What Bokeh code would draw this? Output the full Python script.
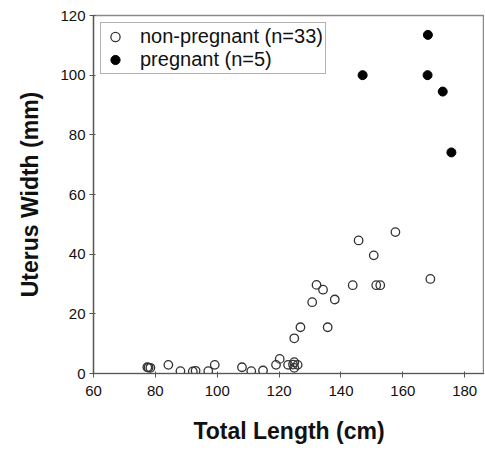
from bokeh.plotting import figure
from bokeh.models import Range1d, Legend, LegendItem, ColumnDataSource
from bokeh.embed import file_html
from bokeh.resources import INLINE

# Non-pregnant females (n=33)
np_length = [77.4, 77.8, 78.4, 84.2, 88.1, 92.1, 93.0, 97.1, 99.2, 108.0, 111.0, 114.8,
             119.0, 120.2, 122.9, 124.9, 124.5, 124.9, 126.0, 124.9, 126.9, 130.7, 132.1,
             134.2, 138.0, 135.7, 143.8, 145.7, 150.6, 151.4, 152.7, 157.6, 168.9]
np_width = [2.1, 2.0, 1.9, 2.9, 0.8, 0.7, 0.9, 0.8, 2.9, 2.1, 0.8, 1.0,
            2.9, 4.9, 2.9, 3.8, 3.0, 1.9, 2.9, 11.8, 15.5, 23.9, 29.7,
            28.1, 24.8, 15.5, 29.6, 44.6, 39.6, 29.6, 29.6, 47.4, 31.7]

# Pregnant females (n=5)
p_length = [147.0, 168.0, 168.1, 172.9, 175.7]
p_width = [100.0, 100.0, 113.5, 94.5, 74.1]

x_ticks = [60, 80, 100, 120, 140, 160, 180]
y_ticks = [0, 20, 40, 60, 80, 100, 120]

FONT = "Liberation Sans"

p = figure(width=484, height=450, output_backend="svg", toolbar_location=None,
           x_range=Range1d(60, 186.4), y_range=Range1d(0, 120),
           min_border_left=93, min_border_right=0, min_border_top=15, min_border_bottom=77)

p.xgrid.visible = False
p.ygrid.visible = False
p.outline_line_color = "#8a8a8a"
p.outline_line_width = 1.5
p.background_fill_color = "white"

src_np = ColumnDataSource(dict(x=np_length, y=np_width))
src_p = ColumnDataSource(dict(x=p_length, y=p_width))

r1 = p.scatter("x", "y", source=src_np, size=8.5, marker="circle",
               fill_color=None, line_color="#333333", line_width=1.3)
r2 = p.scatter("x", "y", source=src_p, size=9, marker="circle",
               fill_color="black", line_color="black")

for ax in (p.xaxis[0], p.yaxis[0]):
    ax.axis_line_color = "#555555"
    ax.axis_line_width = 1.2
    ax.major_tick_line_color = "#555555"
    ax.minor_tick_line_color = "#777777"
    ax.major_tick_in = 2
    ax.major_tick_out = 4
    ax.minor_tick_in = 2
    ax.minor_tick_out = 0
    ax.major_label_text_font = FONT
    ax.major_label_text_font_size = "15px"
    ax.major_label_text_color = "#111111"
    ax.axis_label_text_font = FONT
    ax.axis_label_text_font_style = "bold"
    ax.axis_label_text_font_size = "23px"
    ax.axis_label_text_color = "#111111"

p.xaxis.ticker = x_ticks
p.yaxis.ticker = y_ticks
p.xaxis.major_label_standoff = 8
p.yaxis.major_label_standoff = 4
p.xaxis.axis_label = "Total Length (cm)"
p.yaxis.axis_label = "Uterus Width (mm)"
p.xaxis.axis_label_standoff = 19
p.yaxis.axis_label_standoff = 14

legend = Legend(items=[LegendItem(label="non-pregnant (n=33)", renderers=[r1]),
                       LegendItem(label="pregnant (n=5)", renderers=[r2])],
                location="top_left")
legend.label_text_font = FONT
legend.label_text_font_size = "20px"
legend.label_text_color = "#111111"
legend.border_line_color = "#666666"
legend.border_line_width = 1.2
legend.margin = 7
legend.padding = 2
legend.spacing = 0
legend.label_height = 23
legend.glyph_height = 23
legend.glyph_width = 24
legend.label_standoff = 13
p.add_layout(legend)

open("out.html", "w").write(file_html(p, INLINE))
